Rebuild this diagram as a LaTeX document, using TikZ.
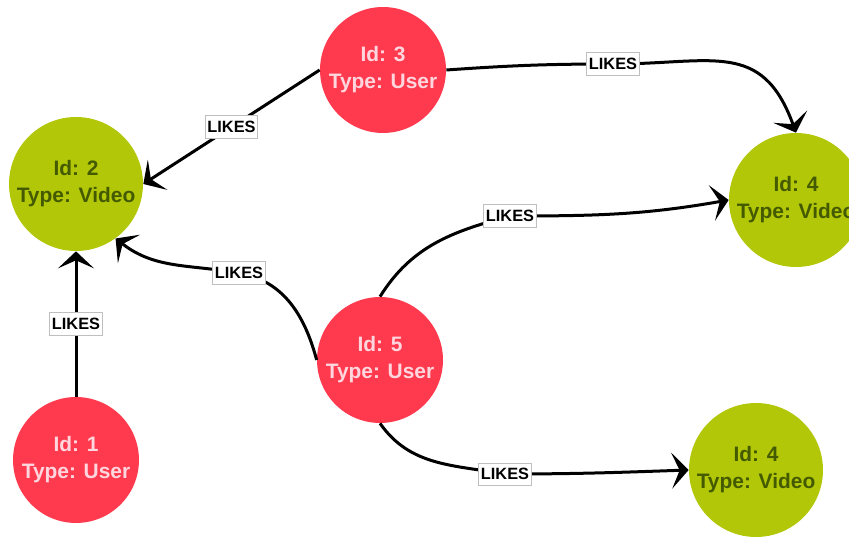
\documentclass[tikz,border=0pt]{standalone}
\usepackage{fontspec}
\setmainfont{Liberation Sans}
\usetikzlibrary{arrows.meta}
\definecolor{userred}{RGB}{255,58,78}
\definecolor{userpink}{RGB}{255,214,222}
\definecolor{videogreen}{RGB}{178,199,8}
\definecolor{videodark}{RGB}{68,90,0}

\begin{document}
\begin{tikzpicture}[
  x=0.02cm, y=0.02cm,
  user/.style={circle, fill=userred, text=userpink, minimum size=2.52cm, inner sep=0pt,
    align=center, font=\fontsize{11.9}{15.3}\selectfont\bfseries},
  video/.style={circle, fill=videogreen, text=videodark, minimum size=2.68cm, inner sep=0pt,
    align=center, font=\fontsize{11.9}{15.3}\selectfont\bfseries},
  lbl/.style={fill=white, draw=black!25, line width=0.5pt, inner xsep=1.2pt, inner ysep=3pt,
    font=\fontsize{9.3}{10}\selectfont\bfseries},
  arrow/.style={-{Stealth[length=0.34cm, width=0.72cm, inset=0.16cm]}, line width=0.06cm}
]
\clip (0,0) rectangle (849,537);
\useasboundingbox (0,0) rectangle (849,537);

\node[user] (u1) at (76,77) {Id: 1\\Type: User};
\node[video] (v2) at (76,353) {Id: 2\\Type: Video};
\node[user] (u3) at (383,467) {Id: 3\\Type: User};
\node[video] (v4a) at (796,337) {Id: 4\\Type: Video};
\node[user] (u5) at (380,177) {Id: 5\\Type: User};
\node[video] (v4b) at (756,67) {Id: 4\\Type: Video};

\draw[arrow] (u1) -- node[lbl] {LIKES} (v2);
\draw[arrow] (u3.west) -- node[lbl] {LIKES} (v2.east);
\draw[arrow] (u3.east) to[out=4, in=180] (613,473) node[lbl] {LIKES}
  to[out=0, in=110, looseness=1.3] (v4a.north);
\draw[arrow] (u5.north) to[out=58, in=195] (510,321) node[lbl] {LIKES}
  to[out=0, in=190] (v4a.west);
\draw[arrow] (u5.west) to[out=105, in=-10] (239,264) node[lbl] {LIKES}
  to[out=170, in=-38] (v2.-54);
\draw[arrow] (u5.south) to[out=-55, in=170] (505,63) node[lbl] {LIKES}
  to[out=0, in=182] (v4b.west);

\end{tikzpicture}
\end{document}
